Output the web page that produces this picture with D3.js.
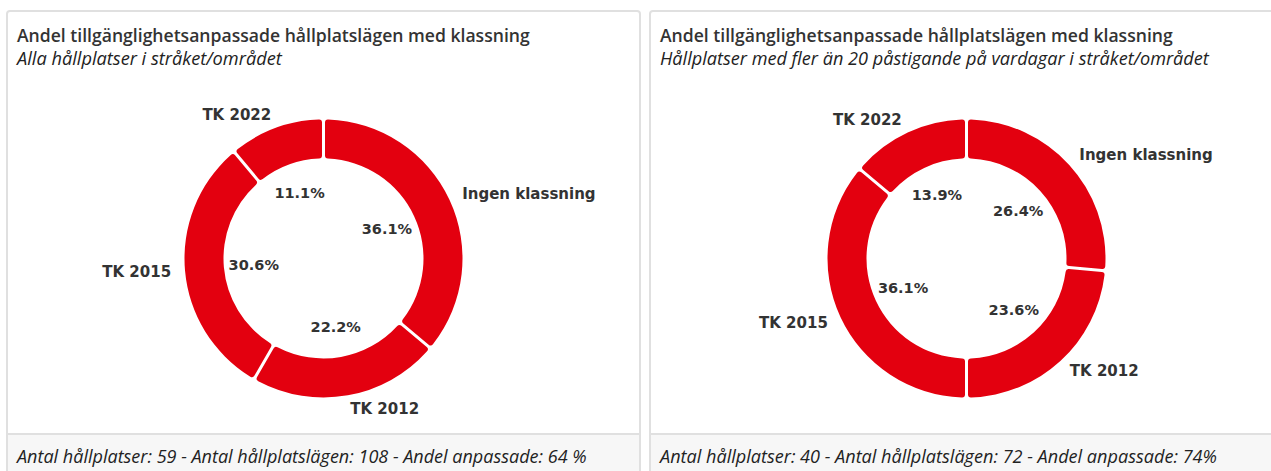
<!DOCTYPE html>
<html>
<head>
<meta charset="utf-8">
<script src="https://cdn.jsdelivr.net/npm/d3@7"></script>
<style>
  html, body { margin: 0; padding: 0; background: #ffffff; }
  svg { display: block; }
</style>
</head>
<body>
<svg id="chart" width="1271" height="471"></svg>
<script>
// ---- data ----
const categories = ["Ingen klassning", "TK 2012", "TK 2015", "TK 2022"];
const valuesAll = [36.1, 22.2, 30.6, 11.1];
const valuesBusy = [26.4, 23.6, 36.1, 13.9];
const titles = [
  "Andel tillgänglighetsanpassade hållplatslägen med klassning",
  "Andel tillgänglighetsanpassade hållplatslägen med klassning"
];
const subtitles = [
  "Alla hållplatser i stråket/området",
  "Hållplatser med fler än 20 påstigande på vardagar i stråket/området"
];
const footers = [
  "Antal hållplatser: 59 - Antal hållplatslägen: 108 - Andel anpassade: 64 %",
  "Antal hållplatser: 40 - Antal hållplatslägen: 72 - Andel anpassade: 74%"
];

const svg = d3.select("#chart");
const panels = [
  { x: 6, values: valuesAll, title: titles[0], sub: subtitles[0], foot: footers[0],
    tw: 513, sw: 265, fw: 570 },
  { x: 649, values: valuesBusy, title: titles[1], sub: subtitles[1], foot: footers[1],
    tw: 513, sw: 549, fw: 557 }
];
const panelW = 633, panelTop = 11, footerY = 434;
const outerR = 139, innerR = 100, pctR = 70, labR = 153;
const red = "#e3000f";
const textCol = "#333333";

function fitText(sel, target) {
  const node = sel.node();
  const len = node.getComputedTextLength();
  const fs = parseFloat(sel.attr("font-size"));
  if (len > 0) sel.attr("font-size", (fs * target / len).toFixed(2));
}

panels.forEach((p, i) => {
  const g = svg.append("g").attr("transform", `translate(${p.x},0)`);
  // panel frame
  g.append("rect").attr("x", 1).attr("y", panelTop).attr("width", panelW).attr("height", 480)
    .attr("rx", 3).attr("fill", "#fff").attr("stroke", "#e0e0e0").attr("stroke-width", 2);
  g.append("rect").attr("x", 2).attr("y", footerY).attr("width", panelW - 2).attr("height", 60)
    .attr("fill", "#f7f7f7");
  g.append("line").attr("x1", 2).attr("x2", panelW).attr("y1", footerY).attr("y2", footerY)
    .attr("stroke", "#e0e0e0").attr("stroke-width", 2);

  const t = g.append("text").attr("x", 11).attr("y", 42).attr("fill", textCol)
    .attr("font-family", "'Open Sans', sans-serif").attr("font-weight", 600)
    .attr("font-size", 17).text(p.title);
  fitText(t, p.tw);
  const s = g.append("text").attr("x", 11).attr("y", 65).attr("fill", "#222")
    .attr("font-family", "'Open Sans', sans-serif").attr("font-style", "italic")
    .attr("font-size", 16).text(p.sub);
  fitText(s, p.sw);
  const f = g.append("text").attr("x", 11).attr("y", 463).attr("fill", "#222")
    .attr("font-family", "'Open Sans', sans-serif").attr("font-style", "italic")
    .attr("font-size", 16).text(p.foot);
  fitText(f, p.fw);

  // donut
  const cx = panelW / 2 + 1, cy = 258.5;
  const dg = g.append("g").attr("transform", `translate(${cx},${cy})`);
  const data = categories.map((c, k) => ({ name: c, value: p.values[k] }));
  const pie = d3.pie().sort(null).value(d => d.value);
  const arcs = pie(data);
  const arc = d3.arc().innerRadius(innerR).outerRadius(outerR)
    .padAngle(3 / outerR).padRadius(outerR).cornerRadius(3);
  dg.selectAll("path.slice").data(arcs).join("path").attr("class", "slice")
    .attr("d", arc).attr("fill", red);

  const pctArc = d3.arc().innerRadius(pctR).outerRadius(pctR);
  dg.selectAll("text.pct").data(arcs).join("text").attr("class", "pct")
    .attr("transform", d => `translate(${pctArc.centroid(d)})`)
    .attr("text-anchor", "middle").attr("dominant-baseline", "central")
    .attr("font-family", "'DejaVu Sans', sans-serif").attr("font-weight", 700)
    .attr("font-size", 14.5).attr("fill", textCol)
    .text(d => d.data.value.toFixed(1) + "%");

  const labArc = d3.arc().innerRadius(labR).outerRadius(labR);
  dg.selectAll("text.lab").data(arcs).join("text").attr("class", "lab")
    .attr("transform", d => `translate(${labArc.centroid(d)})`)
    .attr("text-anchor", d => ((d.startAngle + d.endAngle) / 2 < Math.PI ? "start" : "end"))
    .attr("dominant-baseline", "central")
    .attr("font-family", "'DejaVu Sans', sans-serif").attr("font-weight", 700)
    .attr("font-size", 15).attr("fill", textCol)
    .text(d => d.data.name);
});
</script>
</body>
</html>
